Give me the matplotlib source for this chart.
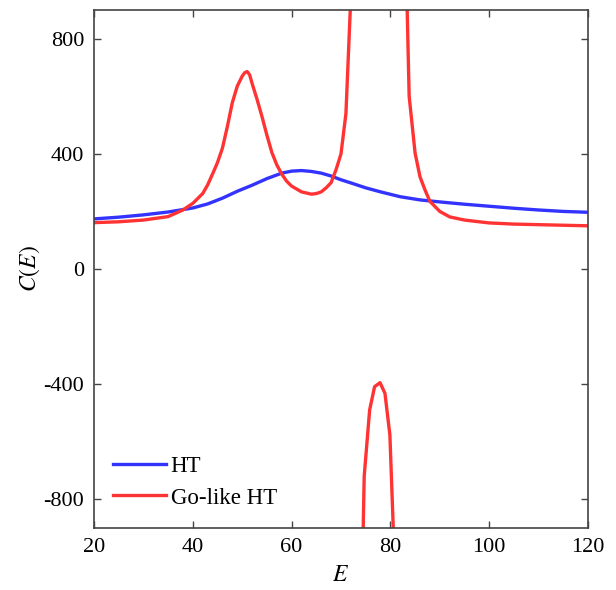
import numpy as np
import matplotlib

matplotlib.use("Agg")
import matplotlib.pyplot as plt

# HT curve
ht_E = [20, 25, 30, 35, 40, 43, 46, 49, 52, 55, 58, 60, 62, 64, 66, 68, 70, 72, 75, 78, 82, 86, 90, 95, 100, 105, 110, 115, 120]
ht_C = [174, 180, 188, 198, 212, 226, 246, 270, 291, 314, 333, 340, 342, 339, 333, 323, 310, 299, 282, 268, 251, 240, 233, 225, 218, 211, 205, 200, 197]

# Go-like HT curve, three branches split by poles
go_E1 = [20, 25, 30, 35, 38, 40, 42, 43, 44, 45, 46, 47, 48, 49, 50, 50.5, 51, 51.5, 52, 53, 54, 55, 56, 57, 58, 59, 60, 62, 64, 65, 66, 67, 68, 69, 70, 71, 72, 73]
go_C1 = [161, 164, 170, 182, 205, 228, 262, 292, 330, 370, 420, 495, 578, 635, 670, 682, 686, 675, 645, 590, 530, 465, 405, 362, 330, 305, 288, 268, 260, 262, 268, 282, 300, 345, 400, 540, 950, 3000]
go_E2 = [73.7, 74.7, 75.8, 76.8, 77.9, 78.9, 79.9, 80.9]
go_C2 = [-1600, -720, -490, -409, -395, -432, -577, -1050]
go_E3 = [82.8, 83.8, 85, 86, 87, 88, 90, 92, 95, 100, 105, 110, 115, 120]
go_C3 = [1350, 600, 403, 320, 275, 235, 200, 181, 170, 160, 156, 154, 152, 150]

plt.rcParams["font.family"] = "Liberation Serif"
plt.rcParams["mathtext.fontset"] = "stix"
plt.rcParams["axes.unicode_minus"] = False

fig = plt.figure(figsize=(6.16, 5.90), dpi=100)
ax = fig.add_axes([0.1526, 0.1051, 0.8019, 0.878])

blue = "#3333FF"
red = "#FF3333"
ax.plot(ht_E, ht_C, color=blue, linewidth=2.4, label="HT")
go_E = go_E1 + [np.nan] + go_E2 + [np.nan] + go_E3
go_C = go_C1 + [np.nan] + go_C2 + [np.nan] + go_C3
ax.plot(go_E, go_C, color=red, linewidth=2.4, label="Go-like HT")

ax.set_xlim(20, 120)
ax.set_ylim(-900, 900)
ax.set_xticks([20, 40, 60, 80, 100, 120])
ax.set_yticks([-800, -400, 0, 400, 800])
ax.tick_params(direction="in", top=True, right=True, length=5, width=1, labelsize=16,
               pad=7, color="#444444")
for spine in ax.spines.values():
    spine.set_color("#444444")
    spine.set_linewidth(1.2)

ax.set_xlabel("$E$", fontsize=17, labelpad=6)
ax.set_ylabel("$C(E)$", fontsize=17, labelpad=1)

ax.legend(loc="lower left", frameon=False, fontsize=16.5, handlelength=2.3, handletextpad=0.2,
          borderaxespad=0.45, labelspacing=0.45)

fig.savefig("out.png", dpi=100)
